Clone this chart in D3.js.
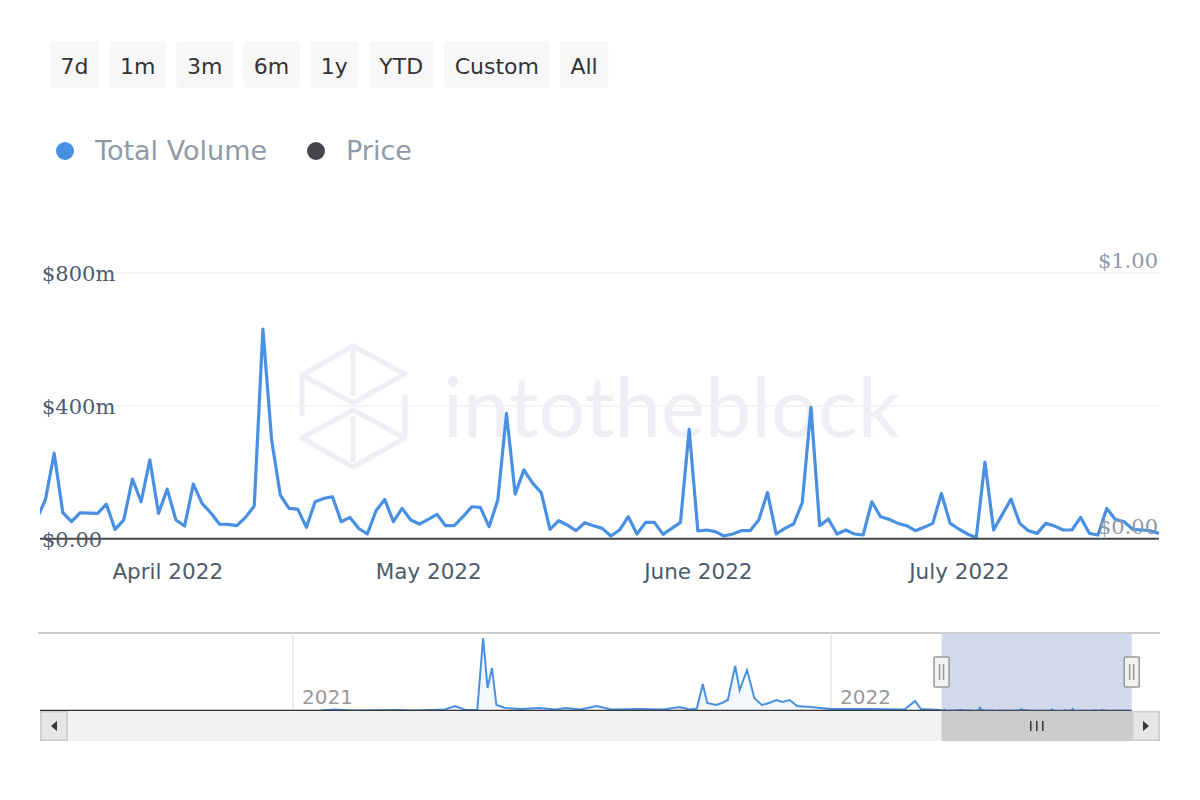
<!DOCTYPE html>
<html>
<head>
<meta charset="utf-8">
<script src="https://cdn.jsdelivr.net/npm/d3@7"></script>
<style>
  body { margin: 0; background: #fff; }
</style>
</head>
<body>
<svg id="chart" width="1200" height="800" font-family="DejaVu Sans, sans-serif"></svg>
<script>
// range selector buttons + legend
var ranges = ["7d", "1m", "3m", "6m", "1y", "YTD", "Custom", "All"];
var seriesNames = ["Total Volume", "Price"];

// daily total volume ($m), starting 2022-03-17
var startDay = "2022-03-17";
var volume = [
  60, 118, 258, 79, 52, 79, 78, 77, 105, 29, 57, 180, 112, 238, 77,
  150, 57, 39, 165, 107, 79, 45, 44, 40, 65, 99, 631, 298, 132, 92, 90, 35, 112, 122, 127, 52, 65, 32, 15, 85, 119, 52, 92, 57, 45,
  59, 74, 40, 40, 67, 97, 95, 37, 117, 378, 135, 208, 168, 139, 29, 55, 42, 25, 49, 40, 32, 9, 27, 67, 15, 50, 50, 14, 32, 50, 330,
  24, 27, 22, 9, 15, 25, 25, 57, 140, 15, 32, 45, 109, 396, 40, 60, 15, 27, 15, 12, 112, 67, 59, 47, 40, 25, 35, 47, 137, 47,
  30, 15, 4, 231, 27, 74, 120, 47, 25, 17, 47, 39, 27, 27, 65, 17, 12, 92, 59, 52, 29, 27, 25, 17
];
// daily price ($), same days
var price = [
  0.001, 0.001, 0.001, 0.001, 0.001, 0.001, 0.001, 0.001, 0.001, 0.001, 0.001, 0.001, 0.001, 0.001, 0.001,
  0.001, 0.001, 0.001, 0.001, 0.001, 0.001, 0.001, 0.001, 0.001, 0.001, 0.001, 0.001, 0.001, 0.001, 0.001,
  0.001, 0.001, 0.001, 0.001, 0.001, 0.001, 0.001, 0.001, 0.001, 0.001, 0.001, 0.001, 0.001, 0.001, 0.001,
  0.001, 0.001, 0.001, 0.001, 0.001, 0.001, 0.001, 0.001, 0.001, 0.001, 0.001, 0.001, 0.001, 0.001, 0.001,
  0.001, 0.001, 0.001, 0.001, 0.001, 0.001, 0.001, 0.001, 0.001, 0.001, 0.001, 0.001, 0.001, 0.001, 0.001,
  0.001, 0.001, 0.001, 0.001, 0.001, 0.001, 0.001, 0.001, 0.001, 0.001, 0.001, 0.001, 0.001, 0.001, 0.001,
  0.001, 0.001, 0.001, 0.001, 0.001, 0.001, 0.001, 0.001, 0.001, 0.001, 0.001, 0.001, 0.001, 0.001, 0.001,
  0.001, 0.001, 0.001, 0.001, 0.001, 0.001, 0.001, 0.001, 0.001, 0.001, 0.001, 0.001, 0.001, 0.001, 0.001,
  0.001, 0.001, 0.001, 0.001, 0.001, 0.001, 0.001, 0.001, 0.001, 0.001
];
var volumeTicks = [0, 400, 800];
var priceTicks = [0, 1];

// navigator history before the main window ($m)
var navDates = [
  "2021-01-20", "2021-01-29", "2021-02-10", "2021-03-14", "2021-03-25", "2021-04-14", "2021-04-21", "2021-04-28",
  "2021-05-06", "2021-05-10", "2021-05-13", "2021-05-16", "2021-05-19", "2021-05-25", "2021-06-05", "2021-06-17",
  "2021-06-28", "2021-07-05", "2021-07-15", "2021-07-26", "2021-08-05", "2021-08-24", "2021-09-10", "2021-09-20",
  "2021-09-27", "2021-10-02", "2021-10-06", "2021-10-09", "2021-10-15", "2021-10-19", "2021-10-23", "2021-10-28",
  "2021-10-31", "2021-11-05", "2021-11-10", "2021-11-15", "2021-11-20", "2021-11-25", "2021-11-29", "2021-12-04",
  "2021-12-09", "2021-12-18", "2022-01-01", "2022-01-27", "2022-02-20", "2022-02-27", "2022-03-03", "2022-03-16"
];
var navVolume = [
  100, 300, 100, 200, 100, 300, 1000, 200,
  200, 14600, 4600, 8600, 1200, 600, 400, 600,
  300, 600, 300, 1000, 300, 400, 300, 800,
  300, 500, 5400, 1600, 1200, 1600, 2200, 9000,
  4200, 8200, 2600, 1200, 1600, 2200, 1800, 2200,
  1000, 800, 400, 400, 300, 2000, 400, 200
];
var navYears = ["2021-01-01", "2022-01-01"];

var parseDay = d3.timeParse("%Y-%m-%d");
var days = d3.timeDay.range(parseDay(startDay), d3.timeDay.offset(parseDay(startDay), volume.length));

var svg = d3.select("#chart");

// ---- range buttons
var bx = 50;
ranges.forEach(function(r) {
  var g = svg.append("g");
  var rect = g.append("rect").attr("y", 41).attr("height", 47).attr("rx", 3).attr("fill", "#f7f7f7");
  var t = g.append("text").attr("y", 74).attr("font-size", 22).attr("fill", "#333").attr("text-anchor", "middle").text(r);
  var w = t.node().getComputedTextLength() + 21;
  rect.attr("x", bx).attr("width", w);
  t.attr("x", bx + w / 2);
  bx += w + 10.5;
});

// ---- legend
var legendColors = ["#4a90e2", "#43474b"];
var lx = [65, 316];
seriesNames.forEach(function(name, i) {
  svg.append("circle").attr("cx", lx[i]).attr("cy", 151).attr("r", 9).attr("fill", legendColors[i]);
  svg.append("text").attr("x", lx[i] + 30).attr("y", 160).attr("font-size", 27).attr("fill", "#8e9aa6").text(name);
});

// ---- main chart
var plotL = 40, plotR = 1160, plotT = 273, plotB = 539;
var x = d3.scaleTime()
  .domain([d3.timeHour.offset(days[0], 9), d3.timeHour.offset(days[days.length - 1], 3)])
  .range([plotL, plotR]);
var y = d3.scaleLinear().domain([0, 800]).range([plotB, plotT]);
var yPrice = d3.scaleLinear().domain([0, 1]).range([plotB, plotT]);

// watermark
var wm = svg.append("g").attr("fill", "none").attr("stroke", "#edeff4").attr("stroke-width", 5).attr("stroke-linejoin", "round");
wm.append("path").attr("d", "M302,375 L353,346 L405,374 L353,403 Z M302,438 L353,410 L405,438 L353,467 Z M302,375 L302,416 M405,395 L405,438 M353,350 L353,396 M353,416 L353,462");
svg.append("text").attr("x", 443).attr("y", 437).attr("font-family", "Lato, sans-serif").attr("font-size", 84)
  .attr("fill", "#edeff4").attr("textLength", 457).attr("lengthAdjust", "spacingAndGlyphs").text("intotheblock");

// grid
svg.append("g").selectAll("line").data(volumeTicks.filter(function(d) { return d > 0; })).enter().append("line")
  .attr("x1", plotL).attr("x2", plotR)
  .attr("y1", function(d) { return y(d); }).attr("y2", function(d) { return y(d); })
  .attr("stroke", "#f2f2f2").attr("stroke-width", 1.5);

svg.append("clipPath").attr("id", "plotclip").append("rect")
  .attr("x", plotL).attr("y", 200).attr("width", plotR - plotL).attr("height", plotB - 200 + 4);

var volLine = d3.line().x(function(d, i) { return x(days[i]); }).y(function(d) { return y(d); });
svg.append("path").datum(volume).attr("clip-path", "url(#plotclip)")
  .attr("d", volLine).attr("fill", "none").attr("stroke", "#4a90e2").attr("stroke-width", 3.2).attr("stroke-linejoin", "round");

var priceLine = d3.line().x(function(d, i) { return x(days[i]); }).y(function(d) { return yPrice(d); });
svg.append("path").datum(price).attr("clip-path", "url(#plotclip)")
  .attr("d", priceLine).attr("fill", "none").attr("stroke", "#43474b").attr("stroke-width", 2);

// x axis
var xAxis = svg.append("g").attr("transform", "translate(0," + plotB + ")")
  .call(d3.axisBottom(x).ticks(d3.timeMonth.every(1)).tickFormat(d3.timeFormat("%B %Y")).tickSize(0).tickPadding(25));
xAxis.select(".domain").remove();
xAxis.attr("font-family", null).attr("font-size", null);
xAxis.selectAll("text").attr("font-size", 21.5).attr("fill", "#4d5a6b");

// left y labels
svg.append("g").selectAll("text").data(volumeTicks).enter().append("text")
  .attr("x", plotL + 2).attr("y", function(d) { return y(d); }).attr("dy", "0.36em")
  .attr("font-family", "DejaVu Serif, serif").attr("font-size", 21).attr("fill", "#4d5a6b")
  .text(function(d) { return d === 0 ? "$0.00" : "$" + d + "m"; });

// right y labels
svg.append("g").selectAll("text").data(priceTicks).enter().append("text")
  .attr("x", plotR - 2).attr("y", function(d) { return yPrice(d) - 13; }).attr("dy", "0.36em")
  .attr("text-anchor", "end")
  .attr("font-family", "DejaVu Serif, serif").attr("font-size", 21).attr("fill", "#8e9aa6")
  .text(function(d) { return "$" + d3.format(".2f")(d); });

// ---- navigator
var navTop = 633, navBottom = 711;
var navX = d3.scaleTime().domain([parseDay(navYears[0]), parseDay(navYears[1])]).range([293, 831]);
var navData = navDates.map(function(d, i) { return { date: parseDay(d), v: navVolume[i] }; })
  .concat(volume.map(function(v, i) { return { date: days[i], v: v }; }));
var navY = d3.scaleLinear().domain([0, d3.max(navData, function(d) { return d.v; })]).range([navBottom, 638]);
var navRight = navX(days[days.length - 1]);

svg.append("line").attr("x1", 38).attr("x2", plotR).attr("y1", navTop).attr("y2", navTop)
  .attr("stroke", "#cccccc").attr("stroke-width", 2);

navYears.forEach(function(yr) {
  var xx = navX(parseDay(yr));
  svg.append("line").attr("x1", xx).attr("x2", xx).attr("y1", navTop).attr("y2", navBottom)
    .attr("stroke", "#e6e6e6").attr("stroke-width", 1.5);
  svg.append("text").attr("x", xx + 9).attr("y", 704).attr("font-size", 20).attr("fill", "#999").text(yr.slice(0, 4));
});

svg.append("clipPath").attr("id", "navclip").append("rect")
  .attr("x", plotL).attr("y", navTop).attr("width", navRight - plotL).attr("height", navBottom - navTop);

var navArea = d3.area().x(function(d) { return navX(d.date); }).y0(navBottom).y1(function(d) { return navY(d.v); });
var navLine = d3.line().x(function(d) { return navX(d.date); }).y(function(d) { return navY(d.v); });
svg.append("path").datum(navData).attr("clip-path", "url(#navclip)").attr("d", navArea).attr("fill", "rgba(74,144,226,0.06)");
svg.append("path").datum(navData).attr("clip-path", "url(#navclip)").attr("d", navLine)
  .attr("fill", "none").attr("stroke", "#4a90e2").attr("stroke-width", 2);

svg.append("line").attr("x1", plotL).attr("x2", navRight).attr("y1", navBottom - 0.5).attr("y2", navBottom - 0.5)
  .attr("stroke", "#333").attr("stroke-width", 1.5);

// selected window
var selL = navX(days[0]), selR = navRight;
svg.append("rect").attr("x", selL).attr("y", navTop + 1).attr("width", selR - selL).attr("height", navBottom - navTop - 1)
  .attr("fill", "rgba(102,133,194,0.3)");

[selL, selR].forEach(function(hx) {
  var h = svg.append("g").attr("transform", "translate(" + hx + ",672)");
  h.append("rect").attr("x", -7.5).attr("y", -15).attr("width", 15).attr("height", 30).attr("rx", 1)
    .attr("fill", "#f2f2f2").attr("stroke", "#999").attr("stroke-width", 1.5);
  h.append("line").attr("x1", -2).attr("x2", -2).attr("y1", -8).attr("y2", 8).attr("stroke", "#999").attr("stroke-width", 1.5);
  h.append("line").attr("x1", 2).attr("x2", 2).attr("y1", -8).attr("y2", 8).attr("stroke", "#999").attr("stroke-width", 1.5);
});

// scrollbar
var sbY = 711, sbH = 30;
svg.append("rect").attr("x", plotL).attr("y", sbY).attr("width", plotR - plotL).attr("height", sbH).attr("fill", "#f2f2f2");
svg.append("rect").attr("x", selL).attr("y", sbY).attr("width", 1132 - selL).attr("height", sbH).attr("fill", "#cccccc");
[-6, 0, 6].forEach(function(o) {
  var gx = (selL + 1132) / 2 + o;
  svg.append("line").attr("x1", gx).attr("x2", gx).attr("y1", 721).attr("y2", 731).attr("stroke", "#333").attr("stroke-width", 1.5);
});
[[plotL, -1], [1132, 1]].forEach(function(b) {
  svg.append("rect").attr("x", b[0] + 0.75).attr("y", sbY + 0.75).attr("width", 26.5).attr("height", sbH - 1.5)
    .attr("fill", "#e6e6e6").attr("stroke", "#cccccc").attr("stroke-width", 1.5);
  var cx = b[0] + 14, cy = sbY + 15;
  svg.append("path").attr("d", b[1] < 0
      ? "M" + (cx + 3) + "," + (cy - 5) + " L" + (cx - 3) + "," + cy + " L" + (cx + 3) + "," + (cy + 5) + " Z"
      : "M" + (cx - 3) + "," + (cy - 5) + " L" + (cx + 3) + "," + cy + " L" + (cx - 3) + "," + (cy + 5) + " Z")
    .attr("fill", "#333");
});
</script>
</body>
</html>
